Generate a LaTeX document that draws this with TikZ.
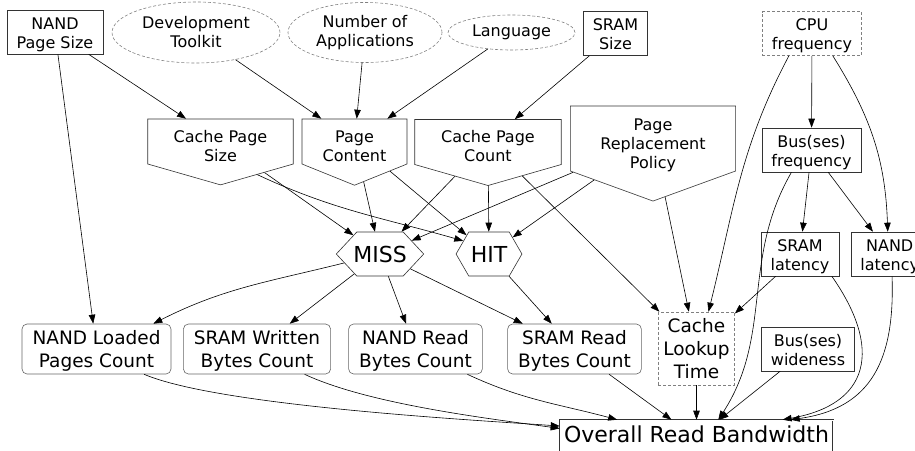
\documentclass[tikz,border=0pt]{standalone}
\usepackage{fontspec}
\setmainfont{DejaVu Sans}
\usetikzlibrary{shapes.geometric,shapes.symbols,arrows.meta}

\begin{document}
\begin{tikzpicture}
[x=1pt,y=1pt,
  boxDecorate/.style={shape=rectangle,draw=black!80,line width=0.6pt,align=center,font=\fontsize{16}{19}\selectfont,inner xsep=9.5pt,inner ysep=4pt,text height=34pt,text depth=2pt},%
  dashBoxDecorate/.style={boxDecorate,draw=black!50,dash pattern=on 3pt off 2pt},%
  ellipseDecorate/.style={shape=ellipse,draw=black!50,line width=0.6pt,dash pattern=on 3pt off 2pt,align=center,font=\fontsize{16}{19}\selectfont,inner sep=0pt},%
  pentDecorate/.style={shape=signal,signal to=south,draw=black!80,line width=0.6pt,align=center,font=\fontsize{16}{19}\selectfont,inner ysep=3pt,text height=39pt,text depth=-10pt},%
  hexDecorate/.style={shape=signal,signal to=east and west,draw=black!80,line width=0.6pt,font=\fontsize{22}{26}\selectfont,inner ysep=14pt,text height=16pt,text depth=0pt},%
  countDecorate/.style={shape=rectangle,rounded corners=5pt,draw=black!60,line width=0.6pt,align=center,font=\fontsize{18.5}{23}\selectfont,inner xsep=10.5pt,inner ysep=3pt,text height=40pt,text depth=4pt},%
  arrowDecorate/.style={-{Triangle[length=9pt,width=6.5pt]},line width=0.6pt}]
\useasboundingbox (0,0) rectangle (915,-450);
%% plain boxes
\foreach \nodename/\x/\y/\txt in {nandps/55/32/NAND\\Page Size, sramsize/615.5/33.5/SRAM\\Size,
  busfreq/811.5/150/Bus(ses)\\frequency, sramlat/800/254/SRAM\\latency,
  nandlat/889.7/254/NAND\\latency, busw/808/349/Bus(ses)\\wideness}
{
  \node (\nodename) at (\x,-\y) [boxDecorate] {\txt};
}
\node (cpu) at (812,-33.5) [dashBoxDecorate] {CPU\\frequency};
%% dashed ellipses
\foreach \nodename/\x/\y/\w/\h/\txt in {devt/196/32.5/168/61/Development\\Toolkit,
  numapp/365/32.5/154/60/Number of\\Applications, lang/511.5/32.5/127/35/Language}
{
  \node (\nodename) at (\x,-\y) [ellipseDecorate,minimum width=\w pt,minimum height=\h pt] {\txt};
}
%% cache parameters
\foreach \nodename/\x/\y/\xsep/\angle/\txt in {cps/220.5/141.5/26/148/Cache Page\\Size,
  pc/354.5/141.5/20.7/136/Page\\Content, cpc/488/142/26.5/148/Cache Page\\Count}
{
  \node (\nodename) at (\x,-\y) [pentDecorate,inner xsep=\xsep pt,signal pointer angle=\angle] {\txt};
}
\node (prp) at (653,-138.5) [pentDecorate,inner xsep=30pt,signal pointer angle=140,text height=59pt,text depth=-14pt] {Page\\Replacement\\Policy};
%% events
\node (miss) at (380,-254) [hexDecorate,inner xsep=-3.5pt,signal pointer angle=94] {MISS};
\node (hit) at (489,-254) [hexDecorate,inner xsep=2pt,signal pointer angle=120] {HIT};
%% counters
\foreach \nodename/\x/\y/\txt in {nlpc/96.5/349/NAND Loaded\\Pages Count, sramw/257/349/SRAM Written\\Bytes Count,
  nandr/415.5/349/NAND Read\\Bytes Count, sramr/574.5/349/SRAM Read\\Bytes Count}
{
  \node (\nodename) at (\x,-\y) [countDecorate] {\txt};
}
\node (clt) at (696.5,-348.5) [countDecorate,rounded corners=0pt,draw=black!50,dash pattern=on 3pt off 2pt,inner xsep=5pt,text height=63pt] {Cache\\Lookup\\Time};
\node (overall) at (696.5,-438) [shape=rectangle,draw=black!80,double,double distance=1pt,line width=0.6pt,font=\fontsize{22}{26}\selectfont,inner xsep=4pt,inner ysep=5pt,text height=17pt,text depth=9pt] {Overall Read Bandwidth};
%% straight connectors
\path
\foreach \startnode/\endnode in {nandps/cps, nandps/nlpc, devt/pc, numapp/pc, lang/pc, sramsize/cpc,
  cpu/busfreq, cps/miss, pc/miss, pc/hit, cpc/miss, cpc/hit, cpc/clt, prp/miss, prp/hit, prp/clt,
  miss/sramw, miss/nandr, miss/sramr, hit/sramr, busfreq/sramlat, busfreq/nandlat,
  sramlat/clt, busw/overall, clt/overall, sramr/overall}
{
  (\startnode) edge[arrowDecorate] (\endnode)
};
%% curved connectors
\path
\foreach \startnode/\endnode/\outangle/\inangle/\loose in {cpu.-136/clt.72/-118/76/1,
  cpu.-47/nandlat.95/-58/92/1, busfreq.-132/overall.40/-120/57/1,
  sramlat.-35/overall.12/-55/10/1.5, nandlat.-84/overall.11/-88/8/1.2,
  nlpc.-28/overall.175/-23/176/0.5, sramw.-28/overall.176/-25/172/0.7,
  nandr.-26/overall.167/-25/165/1, cps.-42/hit.153/-25/164/1, miss.-166/nlpc.24/-166/27/1}
{
  (\startnode) edge[arrowDecorate,out=\outangle,in=\inangle,looseness=\loose] (\endnode)
};
\end{tikzpicture}
\end{document}
